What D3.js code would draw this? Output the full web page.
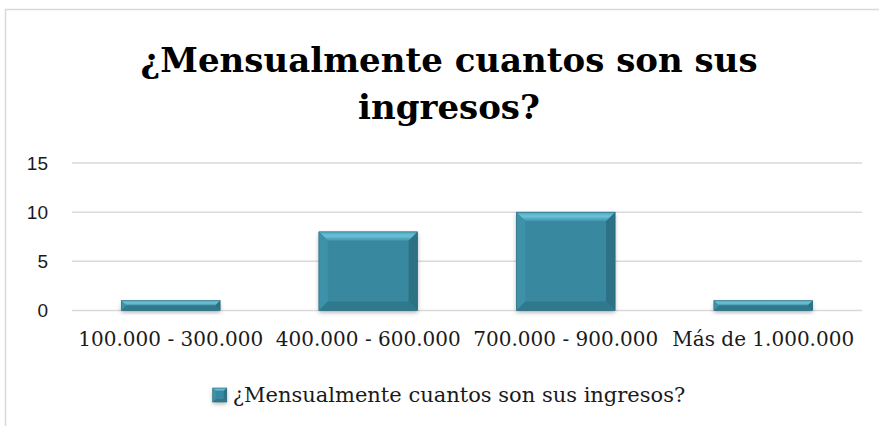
<!DOCTYPE html>
<html><head><meta charset="utf-8">
<script src="https://cdn.jsdelivr.net/npm/d3@7"></script>
<style>body{margin:0;background:#fff}</style>
</head><body>
<script>
// data
var categories = ["100.000 - 300.000", "400.000 - 600.000", "700.000 - 900.000", "Más de 1.000.000"];
var values = [1, 8, 10, 1];
var yTicks = [0, 5, 10, 15];
var titleLines = ["¿Mensualmente cuantos son sus", "ingresos?"];
var seriesName = "¿Mensualmente cuantos son sus ingresos?";

var width = 879, height = 426;
var serif = "'DejaVu Serif', 'Liberation Serif', serif";

var svg = d3.select("body").append("svg")
    .attr("width", width)
    .attr("height", height);

// soft shadow under the bars
var defs = svg.append("defs");
var f = defs.append("filter").attr("id", "shadow")
    .attr("x", "-20%").attr("y", "-20%").attr("width", "140%").attr("height", "160%");
f.append("feDropShadow").attr("dx", 0).attr("dy", 2).attr("stdDeviation", 2)
    .attr("flood-color", "#000").attr("flood-opacity", 0.3);

var topGrad = defs.append("linearGradient").attr("id", "topBevel")
    .attr("x1", 0).attr("y1", 0).attr("x2", 0).attr("y2", 1);
topGrad.append("stop").attr("offset", "0%").attr("stop-color", "#4fa5bb");
topGrad.append("stop").attr("offset", "45%").attr("stop-color", "#6cc3d9");
topGrad.append("stop").attr("offset", "100%").attr("stop-color", "#3f93aa");

// chart frame
svg.append("rect")
    .attr("x", 5.5).attr("y", 9.5)
    .attr("width", 890).attr("height", 430)
    .attr("fill", "#fff")
    .attr("stroke", "#d9d9d9")
    .attr("stroke-width", 1.5);

// title
var cx = 449;
svg.append("g").selectAll("text")
    .data(titleLines)
    .enter().append("text")
    .attr("x", cx)
    .attr("y", function(d, i){ return 72 + i * 47; })
    .attr("text-anchor", "middle")
    .attr("font-family", serif)
    .attr("font-weight", "bold")
    .attr("font-size", 34)
    .attr("fill", "#000")
    .text(function(d){ return d; });

var x = d3.scaleBand()
    .domain(categories)
    .range([72, 862])
    .paddingInner(0.5)
    .paddingOuter(0.25);

var y = d3.scaleLinear()
    .domain([0, 15])
    .range([310.5, 163]);

// gridlines
svg.append("g").selectAll("line")
    .data(yTicks)
    .enter().append("line")
    .attr("x1", 72).attr("x2", 862)
    .attr("y1", function(d){ return y(d); })
    .attr("y2", function(d){ return y(d); })
    .style("stroke", "#d9d9d9")
    .style("stroke-width", 1.5);

// y axis labels
var yAxis = d3.axisLeft(y).tickValues(yTicks).tickSize(0).tickPadding(0);
var yg = svg.append("g").attr("transform", "translate(48,0)").call(yAxis);
yg.select(".domain").remove();
yg.selectAll("text")
    .attr("font-family", "'Liberation Sans', Arial, sans-serif")
    .attr("font-size", 19)
    .attr("fill", "#1a1a1a");

// x axis labels
var xAxis = d3.axisBottom(x).tickSize(0).tickPadding(0);
var xg = svg.append("g").attr("transform", "translate(0,346)").call(xAxis);
xg.select(".domain").remove();
xg.selectAll("text")
    .attr("dy", 0)
    .attr("font-family", serif)
    .attr("font-size", 20)
    .attr("fill", "#1a1a1a");

// bevelled bar drawn as five polygons
function bevelBar(g, x0, y0, w, h, bMax){
    var b = Math.min(bMax, h / 2, w / 2);
    var x1 = x0 + w, y1 = y0 + h;
    var bg = g.append("g");
    bg.append("rect").attr("x", x0).attr("y", y0).attr("width", w).attr("height", h)
        .attr("fill", "#37889f").attr("filter", "url(#shadow)");
    var faces = [
        {pts: [[x0,y0],[x1,y0],[x1-b,y0+b],[x0+b,y0+b]], fill: "url(#topBevel)"},
        {pts: [[x0,y0],[x0+b,y0+b],[x0+b,y1-b],[x0,y1]], fill: "#3d91a8"},
        {pts: [[x1,y0],[x1,y1],[x1-b,y1-b],[x1-b,y0+b]], fill: "#2c7184"},
        {pts: [[x0,y1],[x0+b,y1-b],[x1-b,y1-b],[x1,y1]], fill: "#30798d"}
    ];
    bg.selectAll("polygon").data(faces).enter().append("polygon")
        .attr("points", function(d){ return d.pts.map(function(p){ return p.join(","); }).join(" "); })
        .attr("fill", function(d){ return d.fill; });
    bg.append("rect").attr("x", x0).attr("y", y0).attr("width", w).attr("height", h)
        .attr("fill", "none").attr("stroke", "#2a6c7e").attr("stroke-width", 0.6);
}

var bars = svg.append("g").attr("class", "bars");
categories.forEach(function(c, i){
    var top = y(values[i]);
    bevelBar(bars, x(c), top, x.bandwidth(), y(0) - top, 9);
});

// legend
var lg = svg.append("g");
var lt = lg.append("text")
    .attr("font-family", serif)
    .attr("font-size", 21)
    .attr("fill", "#1a1a1a")
    .text(seriesName);
var tw = lt.node().getComputedTextLength();
var box = 14, gap = 6;
var lx = cx - (box + gap + tw) / 2;
lt.attr("x", lx + box + gap).attr("y", 402);
bevelBar(lg, lx, 388, box, box, 3);
</script>
</body></html>
